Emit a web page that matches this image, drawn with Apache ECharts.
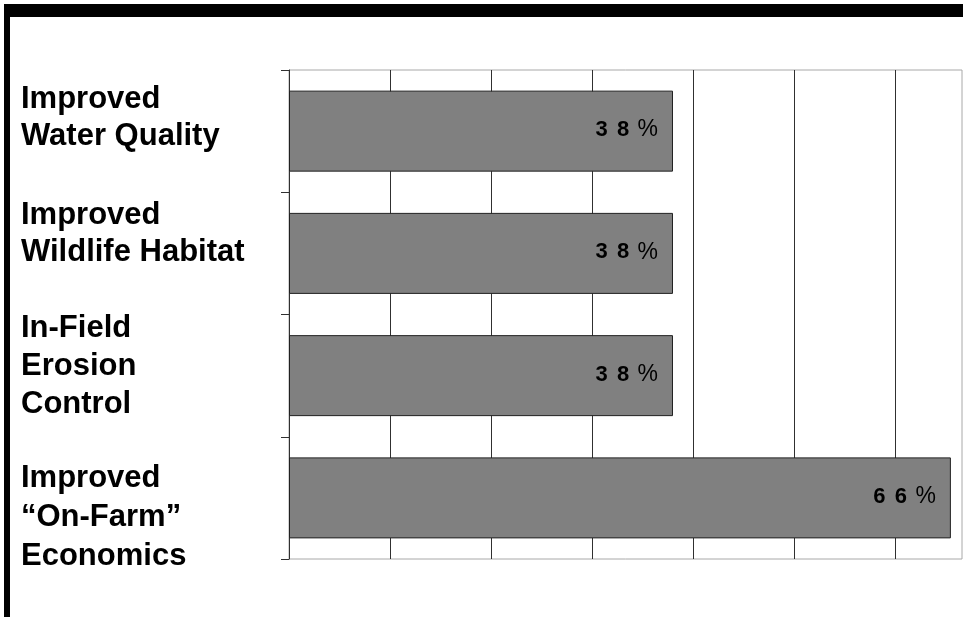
<!DOCTYPE html>
<html>
<head>
<meta charset="utf-8">
<script src="https://cdn.jsdelivr.net/npm/echarts@6/dist/echarts.min.js"></script>
<style>
html,body{margin:0;padding:0;background:#fff;}
#chart{width:963px;height:617px;}
</style>
</head>
<body>
<div id="chart"></div>
<script>
var categories = [
  'Improved\nWater Quality',
  'Improved\nWildlife Habitat',
  'In-Field\nErosion\nControl',
  'Improved\n\u201COn-Farm\u201D\nEconomics'
];
var values = [38, 38, 38, 65.5];
var axisTicks = [0, 10, 20, 30, 40, 50, 60];

// vertical shift of each category label block (px; negative = up) and its line height
var labelShift = [-13, -19, -9, 20];
var labelLineHeight = [37, 37, 38, 39];

var chart = echarts.init(document.getElementById('chart'), null, {renderer: 'canvas'});

var rich = {};
labelLineHeight.forEach(function (lh) {
  rich['t' + lh] = {fontFamily: 'Liberation Sans, Arial, sans-serif', fontWeight: 'bold', fontSize: 31, lineHeight: lh, color: '#000', align: 'left'};
});
labelShift.forEach(function (s) {
  rich['g' + Math.abs(2 * s)] = {fontSize: 1, lineHeight: Math.abs(2 * s)};
});

var option = {
  backgroundColor: '#ffffff',
  animation: false,
  grid: {
    left: 289, right: 1, top: 70, bottom: 58,
    containLabel: false,
    outerBoundsMode: 'none',
    show: true, borderColor: '#a8a8a8', borderWidth: 1, backgroundColor: 'transparent'
  },
  xAxis: {
    type: 'value',
    min: axisTicks[0],
    max: 66.6,
    interval: 10,
    axisLabel: {show: false},
    axisTick: {show: false},
    axisLine: {show: false},
    splitLine: {show: true, showMinLine: false, showMaxLine: false, lineStyle: {color: '#303030', width: 1}}
  },
  yAxis: {
    type: 'category',
    inverse: true,
    data: categories,
    axisLine: {show: true, lineStyle: {color: '#303030', width: 1}},
    axisTick: {show: true, length: 8, lineStyle: {color: '#303030', width: 1}},
    axisLabel: {
      show: true,
      interval: 0,
      hideOverlap: false,
      align: 'left',
      verticalAlign: 'middle',
      margin: 268,
      color: '#000',
      formatter: function (val, idx) {
        var s = labelShift[idx] || 0;
        var lh = labelLineHeight[idx] || 37;
        var lines = val.split('\n').map(function (l) { return '{t' + lh + '|' + l + '}'; });
        var g = '{g' + Math.abs(2 * s) + '| }';
        if (s < 0) lines.push(g);
        else if (s > 0) lines.unshift(g);
        return lines.join('\n');
      },
      rich: rich
    },
    splitLine: {show: false}
  },
  series: [{
    type: 'bar',
    data: values,
    barWidth: 81,
    itemStyle: {color: '#808080', borderColor: '#202020', borderWidth: 1},
    label: {
      show: true,
      position: 'insideRight',
      distance: 15,
      offset: [0, -1],
      formatter: function (p) {
        var digits = String(Math.round(p.value)).split('');
        return digits.map(function (d) { return '{d|' + d + '}'; }).join(' ') + ' {p|%}';
      },
      rich: {
        d: {fontFamily: 'Liberation Sans, Arial, sans-serif', fontWeight: 'bold', fontSize: 22, color: '#000', padding: [0, 3]},
        p: {fontFamily: 'Liberation Sans, Arial, sans-serif', fontWeight: 'normal', fontSize: 23, color: '#000', padding: [0, 0, 0, 2]}
      }
    }
  }],
  graphic: [
    {type: 'rect', shape: {x: 4, y: 4, width: 959, height: 13}, style: {fill: '#000'}, z: 100},
    {type: 'rect', shape: {x: 4, y: 4, width: 6, height: 613}, style: {fill: '#000'}, z: 100}
  ]
};
chart.setOption(option);
</script>
</body>
</html>
